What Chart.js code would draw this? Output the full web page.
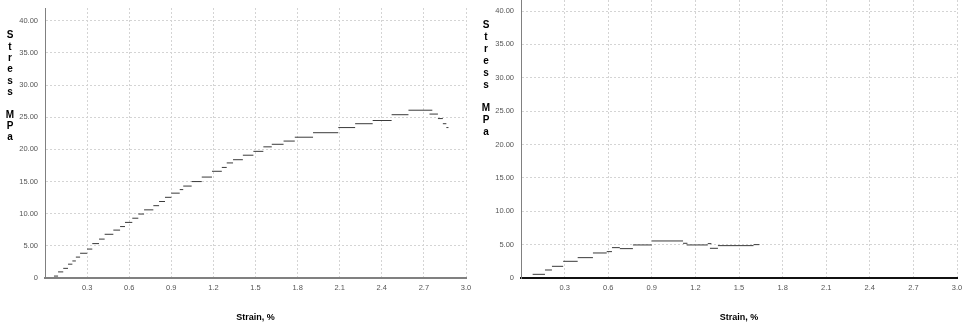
<!DOCTYPE html>
<html>
<head>
<meta charset="utf-8">
<title>Stress - Strain</title>
<script src="https://cdn.jsdelivr.net/npm/chart.js@4.4.1/dist/chart.umd.min.js"></script>
<style>
  html, body { margin: 0; padding: 0; background: #fff; }
  #wrap { display: flex; width: 964px; height: 325px; }
  canvas { display: block; }
</style>
</head>
<body>
<div id="wrap">
  <canvas id="leftChart" width="480" height="325"></canvas>
  <canvas id="rightChart" width="484" height="325"></canvas>
</div>
<script>
// Tick values shared by both tests
const strainTicks = [0.3, 0.6, 0.9, 1.2, 1.5, 1.8, 2.1, 2.4, 2.7, 3.0];
const stressTicks = [0, 5, 10, 15, 20, 25, 30, 35, 40];

// Test 1 - recorded steps: strain from / strain to (%), stress level (MPa)
const leftStrainFrom = [0.064, 0.093, 0.13, 0.164, 0.195, 0.22, 0.25, 0.30, 0.337, 0.385,
    0.425, 0.487, 0.535, 0.57, 0.622, 0.665, 0.706, 0.772, 0.813, 0.855,
    0.90, 0.96, 0.985, 1.045, 1.117, 1.19, 1.26, 1.295, 1.34, 1.41,
    1.485, 1.556, 1.616, 1.70, 1.78, 1.91, 2.09, 2.21, 2.335, 2.47,
    2.59, 2.74, 2.80, 2.835, 2.86];
const leftStrainTo = [0.093, 0.13, 0.164, 0.195, 0.22, 0.25, 0.30, 0.337, 0.385, 0.425,
    0.487, 0.535, 0.57, 0.622, 0.665, 0.706, 0.772, 0.813, 0.855, 0.90,
    0.96, 0.985, 1.045, 1.117, 1.19, 1.26, 1.295, 1.34, 1.41, 1.485,
    1.556, 1.616, 1.70, 1.78, 1.91, 2.09, 2.21, 2.335, 2.47, 2.59,
    2.76, 2.80, 2.835, 2.86, 2.875];
const leftStress = [0.3, 0.95, 1.5, 2.15, 2.65, 3.25, 3.85, 4.5, 5.35, 6.05,
    6.8, 7.45, 8.0, 8.65, 9.3, 9.95, 10.6, 11.25, 11.9, 12.55,
    13.2, 13.75, 14.3, 15.0, 15.7, 16.6, 17.2, 17.9, 18.4, 19.1,
    19.7, 20.4, 20.8, 21.3, 21.9, 22.6, 23.4, 24.0, 24.5, 25.4,
    26.1, 25.5, 24.8, 24.0, 23.4];

// Test 2
const rightStrainFrom = [0.08, 0.165, 0.213, 0.29, 0.39, 0.495, 0.59, 0.626, 0.68, 0.77,
    0.90, 1.115, 1.14, 1.285, 1.30, 1.355, 1.60];
const rightStrainTo = [0.165, 0.213, 0.29, 0.39, 0.495, 0.59, 0.626, 0.68, 0.77, 0.90,
    1.115, 1.145, 1.285, 1.31, 1.355, 1.60, 1.64];
const rightStress = [0.55, 1.2, 1.75, 2.5, 3.05, 3.75, 3.95, 4.55, 4.4, 4.95,
    5.55, 5.2, 4.95, 5.15, 4.45, 4.85, 5.0];

// Turn steps into short horizontal pieces separated by gaps
function buildSteps(from, to, stress) {
    const points = [];
    for (let i = 0; i < stress.length; i++) {
        points.push({ x: from[i], y: stress[i] });
        points.push({ x: to[i], y: stress[i] });
        points.push({ x: to[i], y: null });
    }
    return points;
}

// Vertical, letter-by-letter axis title
const stackedTitle = {
    id: 'stackedTitle',
    afterDraw(chart, args, opts) {
        const ctx = chart.ctx;
        ctx.save();
        ctx.font = 'bold 10px Arial, "Liberation Sans", sans-serif';
        ctx.fillStyle = '#000';
        ctx.textAlign = 'center';
        ctx.textBaseline = 'middle';
        opts.text.split('').forEach((ch, i) => {
            ctx.fillText(ch, opts.x, opts.top + i * opts.step);
        });
        ctx.restore();
    }
};

const tickFont = { family: 'Arial, "Liberation Sans", sans-serif', size: 7.5 };

function makeChart(id, points, cfg) {
    const ctx = document.getElementById(id);
    return new Chart(ctx, {
        type: 'line',
        data: {
            datasets: [{
                data: points,
                borderColor: '#3a3a3a',
                borderWidth: 1,
                pointRadius: 0,
                spanGaps: false,
                tension: 0
            }]
        },
        options: {
            responsive: false,
            animation: false,
            layout: { padding: { left: 0, top: cfg.padTop, right: cfg.padRight, bottom: 0 } },
            plugins: {
                legend: { display: false },
                tooltip: { enabled: false },
                stackedTitle: { text: 'Stress MPa', x: cfg.titleX, top: cfg.titleTop, step: cfg.titleStep }
            },
            scales: {
                x: {
                    type: 'linear',
                    min: 0,
                    max: 3.0,
                    afterBuildTicks: scale => { scale.ticks = strainTicks.map(v => ({ value: v })); },
                    afterFit: scale => { scale.height = 47; scale.paddingLeft = 0; scale.paddingRight = 0; },
                    ticks: {
                        font: tickFont,
                        color: '#555',
                        padding: 5,
                        maxRotation: 0,
                        autoSkip: false,
                        callback: v => v.toFixed(1)
                    },
                    grid: { color: '#d4d4d4', drawTicks: false },
                    border: { color: cfg.xAxisColor, width: 2, dash: [2, 2] },
                    title: {
                        display: true,
                        text: 'Strain, %',
                        color: '#000',
                        font: { family: 'Arial, "Liberation Sans", sans-serif', size: 9, weight: 'bold' },
                        padding: { top: 0, bottom: 2.5 }
                    }
                },
                y: {
                    min: 0,
                    max: cfg.yMax,
                    afterBuildTicks: scale => { scale.ticks = stressTicks.map(v => ({ value: v })); },
                    afterFit: scale => { scale.width = cfg.yWidth; scale.paddingTop = 0; scale.paddingBottom = 0; },
                    ticks: {
                        font: tickFont,
                        color: '#555',
                        padding: 7,
                        autoSkip: false,
                        callback: v => v === 0 ? '0' : v.toFixed(2)
                    },
                    grid: { color: '#d4d4d4', drawTicks: false },
                    border: { color: '#808080', width: 1, dash: [2, 2] }
                }
            }
        },
        plugins: [stackedTitle]
    });
}

makeChart('leftChart', buildSteps(leftStrainFrom, leftStrainTo, leftStress), {
    yWidth: 45, padTop: 8, padRight: 14, yMax: 42.0,
    xAxisColor: '#808080', titleX: 10, titleTop: 35.7, titleStep: 11.3
});

makeChart('rightChart', buildSteps(rightStrainFrom, rightStrainTo, rightStress), {
    yWidth: 41, padTop: 0, padRight: 7, yMax: 41.65,
    xAxisColor: '#111', titleX: 6, titleTop: 25.5, titleStep: 11.85
});
</script>
</body>
</html>
